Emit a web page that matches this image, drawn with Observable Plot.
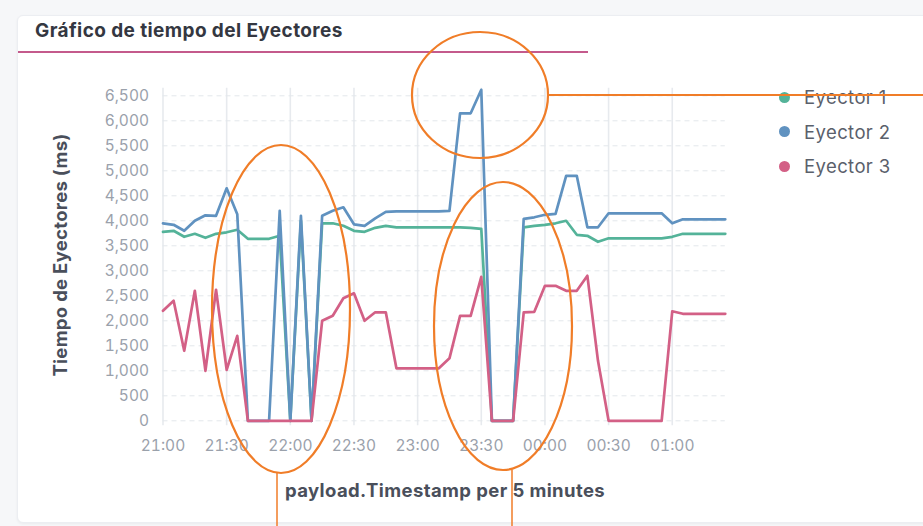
<!DOCTYPE html>
<html>
<head>
<meta charset="utf-8">
<script src="https://cdn.jsdelivr.net/npm/d3@7"></script>
<script src="https://cdn.jsdelivr.net/npm/@observablehq/plot@0.6"></script>
<style>
  html, body { margin: 0; padding: 0; width: 923px; height: 526px; overflow: hidden; background: #f6f7f9; font-family: Inter, "Open Sans", sans-serif; }
  #card { position: absolute; left: 17px; top: 15px; width: 930px; height: 506px; background: #fff; border: 1px solid #eceef2; border-radius: 6px; box-shadow: 0 1px 3px rgba(0,0,0,0.05); }
  #title { position: absolute; left: 35px; top: 19px; font-weight: 700; font-size: 19px; letter-spacing: 0.4px; color: #343741; white-space: nowrap; }
  #rule { position: absolute; left: 18px; top: 51px; width: 570px; height: 1.6px; background: #c45a8c; }
  #chart { position: absolute; left: 0; top: 0; }
  #ytitle { position: absolute; left: 60px; top: 255px; transform: translate(-50%, -50%) rotate(-90deg); font-weight: 700; font-size: 18.5px; letter-spacing: 0.3px; color: #4a4f5b; white-space: nowrap; }
  #xtitle { position: absolute; left: 445px; top: 490px; transform: translate(-50%, -50%); font-weight: 700; font-size: 18.5px; letter-spacing: 0.4px; color: #4a4f5b; white-space: nowrap; }
  #legend { position: absolute; left: 779px; top: 84px; }
  .item { position: absolute; left: 0; height: 26px; display: flex; align-items: center; white-space: nowrap; font-size: 18.5px; letter-spacing: 0.4px; color: #5a606b; }
  .dot { width: 11px; height: 11px; border-radius: 50%; margin-right: 14px; }
  #annot { position: absolute; left: 0; top: 0; }
</style>
</head>
<body>
<div id="card"></div>
<div id="title">Gráfico de tiempo del Eyectores</div>
<div id="rule"></div>
<div id="chart"></div>
<div id="ytitle">Tiempo de Eyectores (ms)</div>
<div id="xtitle">payload.Timestamp per 5 minutes</div>
<div id="legend"></div>
<script>
// ---- data (5-minute buckets starting at 21:00) ----
const startTime = "21:00";
const stepMinutes = 5;
const tickLabels = ["21:00", "21:30", "22:00", "22:30", "23:00", "23:30", "00:00", "00:30", "01:00"];
const yTicks = [0, 500, 1000, 1500, 2000, 2500, 3000, 3500, 4000, 4500, 5000, 5500, 6000, 6500];
const seriesNames = ["Eyector 1", "Eyector 2", "Eyector 3"];
const seriesColors = ["#54B399", "#6092C0", "#D36086"];

const eyector1 = [3780, 3800, 3680, 3740, 3660, 3740, 3770, 3820, 3640, 3640,
                  3640, 3700, 0, 4000, 0, 3950, 3950, 3900, 3800, 3780,
                  3860, 3900, 3870, 3870, 3870, 3870, 3870, 3870, 3870, 3860,
                  3840, 0, 0, 0, 3870, 3900, 3920, 3950, 4000, 3720,
                  3700, 3580, 3650, 3650, 3650, 3650, 3650, 3650, 3680, 3740,
                  3740, 3740, 3740, 3740];
const eyector2 = [3950, 3920, 3800, 4000, 4110, 4100, 4650, 4130, 0, 0,
                  0, 4200, 0, 4100, 0, 4100, 4200, 4270, 3930, 3900,
                  4050, 4180, 4190, 4190, 4190, 4190, 4190, 4200, 6150, 6150,
                  6620, 0, 0, 0, 4040, 4070, 4120, 4140, 4900, 4900,
                  3870, 3870, 4150, 4150, 4150, 4150, 4150, 4150, 3950, 4030,
                  4030, 4030, 4030, 4030];
const eyector3 = [2200, 2400, 1400, 2600, 1000, 2620, 1020, 1700, 0, 0,
                  0, 0, 0, 0, 0, 2000, 2100, 2450, 2550, 2000,
                  2170, 2170, 1050, 1050, 1050, 1050, 1050, 1250, 2100, 2100,
                  2880, 0, 0, 0, 2170, 2180, 2700, 2700, 2600, 2600,
                  2900, 1200, 0, 0, 0, 0, 0, 0, 2190, 2140,
                  2140, 2140, 2140, 2140];

// ---- build table ----
const base = new Date(2024, 0, 1, 0, 0, 0);
function parseHM(s) {
  const [h, m] = s.split(":").map(Number);
  const d = new Date(base);
  d.setHours(h < 12 ? h + 24 : h, m, 0, 0);
  return d;
}
const t0 = parseHM(startTime);
const times = eyector1.map((_, i) => d3.timeMinute.offset(t0, i * stepMinutes));
const tickDates = tickLabels.map(parseHM);
const allSeries = [eyector1, eyector2, eyector3];
const rows = seriesNames.flatMap((s, k) => allSeries[k].map((v, i) => ({series: s, time: times[i], value: v})));

const chart = Plot.plot({
  width: 760,
  height: 470,
  marginLeft: 162.5,
  marginRight: 35.2,
  marginTop: 87.8,
  marginBottom: 49.7,
  style: {fontFamily: "Inter, sans-serif", background: "transparent", overflow: "visible"},
  x: {type: "time", domain: [times[0], times[times.length - 1]]},
  y: {domain: [0, 6650]},
  color: {domain: seriesNames, range: seriesColors},
  marks: [
    Plot.gridX(tickDates, {stroke: "#e7eaee", strokeOpacity: 1, strokeWidth: 1.6, insetBottom: -5}),
    Plot.gridY(yTicks, {stroke: "#e3e7ec", strokeOpacity: 1, strokeDasharray: "5,4"}),
    Plot.axisY(yTicks, {tickSize: 0, tickPadding: 14, tickFormat: d3.format(","), fontSize: 15.5, color: "#9aa1ab", label: null}),
    Plot.axisX(tickDates, {tickSize: 0, tickPadding: 19, tickFormat: d3.timeFormat("%H:%M"), fontSize: 15.5, color: "#9aa1ab", label: null}),
    ...seriesNames.map(s => Plot.line(rows.filter(r => r.series === s), {
      x: "time", y: "value", stroke: "series", strokeWidth: 2.7, strokeLinejoin: "round"
    }))
  ]
});
document.getElementById("chart").appendChild(chart);

// ---- legend ----
const legend = d3.select("#legend");
seriesNames.forEach((s, k) => {
  const it = legend.append("div").attr("class", "item").style("top", (k * 34.5) + "px");
  it.append("div").attr("class", "dot").style("background", seriesColors[k]);
  it.append("span").text(s);
});

// ---- hand-drawn orange annotations (overlay on the screenshot) ----
const annot = d3.select("body").append("svg").attr("id", "annot").attr("width", 923).attr("height", 526);
const orange = "#f07d28";
annot.append("line").attr("x1", 549).attr("y1", 95).attr("x2", 923).attr("y2", 95).attr("stroke", orange).attr("stroke-width", 2);
annot.append("line").attr("x1", 277).attr("y1", 472).attr("x2", 277).attr("y2", 526).attr("stroke", orange).attr("stroke-width", 1.5);
annot.append("line").attr("x1", 512).attr("y1", 470).attr("x2", 512).attr("y2", 526).attr("stroke", orange).attr("stroke-width", 1.5);
[[281, 309, 69, 164], [480, 95, 68, 63], [503, 326, 69, 144]].forEach(([cx, cy, rx, ry]) => {
  annot.append("ellipse").attr("cx", cx).attr("cy", cy).attr("rx", rx).attr("ry", ry)
    .attr("fill", "none").attr("stroke", orange).attr("stroke-width", 2.2);
});
</script>
</body>
</html>
